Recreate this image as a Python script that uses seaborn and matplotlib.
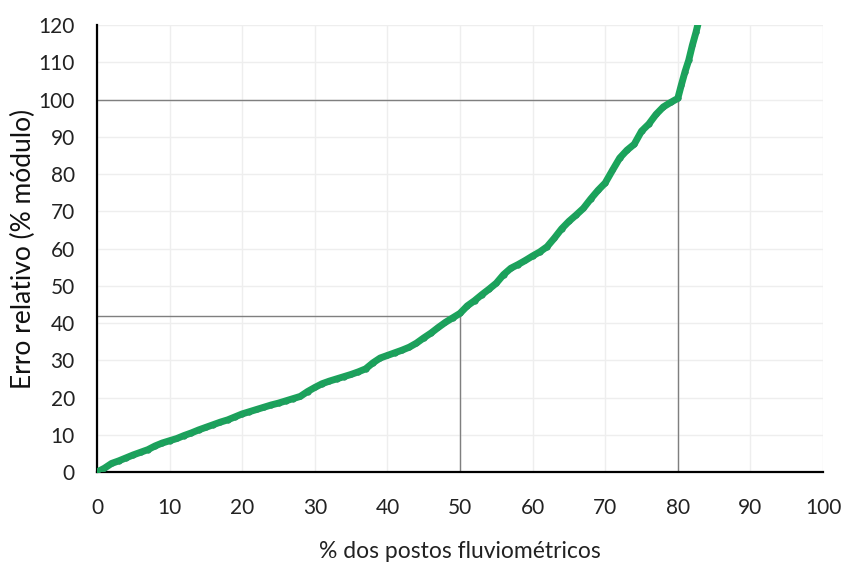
import matplotlib
matplotlib.use("Agg")
import matplotlib.pyplot as plt
import seaborn as sns
import pandas as pd

# % dos postos (x) e erro relativo (y)
pct_postos = [0, 1, 2, 3, 4, 5, 6, 7, 8, 9, 10, 11, 12, 13, 14, 15, 16, 17, 18, 19,
              20, 21, 22, 23, 24, 25, 26, 27, 28, 29, 30, 31, 32, 33, 34, 35, 36, 37,
              38, 39, 40, 41, 42, 43, 44, 45, 46, 47, 48, 49, 50, 51, 52, 53, 54, 55,
              56, 57, 58, 59, 60, 61, 62, 63, 64, 65, 66, 67, 68, 69, 70, 71, 72, 73,
              74, 75, 76, 77, 78, 79, 80, 80.5, 81, 81.5, 82, 82.5, 83]
erro_rel = [0, 1, 2.3, 3, 3.8, 4.6, 5.3, 6, 7, 7.8, 8.4, 9, 9.8, 10.5, 11.3, 12, 12.7,
            13.4, 14, 14.8, 15.6, 16.2, 16.8, 17.4, 18, 18.5, 19.1, 19.7, 20.3, 21.6,
            22.7, 23.7, 24.4, 25, 25.6, 26.2, 26.9, 27.7, 29.3, 30.6, 31.3, 32, 32.7,
            33.5, 34.6, 36, 37.3, 38.8, 40.2, 41.4, 42.6, 44.6, 46, 47.6, 49.1, 50.7,
            53, 54.7, 55.7, 56.8, 58, 59.1, 60.5, 62.8, 65.3, 67.3, 69, 70.8, 73.3,
            75.6, 77.6, 81, 84.3, 86.4, 88, 91.5, 93.4, 96, 98, 99.2, 100.3, 104,
            107.5, 110.5, 114.5, 118, 122]

# pontos de referencia (50% -> 42%, 80% -> 100%)
ref_x = [50, 80]
ref_y = [42, 100]

df = pd.DataFrame({"x": pct_postos, "y": erro_rel})

sns.set_theme(style="white")
plt.rcParams["font.family"] = ["Lato", "DejaVu Sans"]

fig = plt.figure(figsize=(8.46, 5.62), dpi=100)
ax = fig.add_axes([0.1147, 0.1601, 0.8581, 0.7954])

ax.grid(True, color="#eeeeee", linewidth=1)
ax.set_axisbelow(True)

for rx, ry in zip(ref_x, ref_y):
    ax.plot([0, rx], [ry, ry], color="#7f7f7f", linewidth=1, zorder=2)
    ax.plot([rx, rx], [0, ry], color="#7f7f7f", linewidth=1, zorder=2)

sns.lineplot(data=df, x="x", y="y", ax=ax, color="#19a55a", linewidth=5,
             marker="o", markersize=4, markeredgecolor="#2f8a66",
             markeredgewidth=0.4, zorder=3, clip_on=True)

ax.set_xlim(0, 100)
ax.set_ylim(0, 120)
ax.set_xticks(range(0, 101, 10))
ax.set_yticks(range(0, 121, 10))
ax.tick_params(axis="both", length=0, labelsize=15, colors="#222222")
ax.tick_params(axis="x", pad=19)
ax.tick_params(axis="y", pad=16)

ax.set_xlabel("% dos postos fluviométricos", fontsize=16.5, color="#222222", labelpad=16)
ax.set_ylabel("Erro relativo (% módulo)", fontsize=19, color="#111111", labelpad=2)

sns.despine(ax=ax)
for s in ["left", "bottom"]:
    ax.spines[s].set_color("black")
    ax.spines[s].set_linewidth(1.6)

fig.savefig("out.png", dpi=100)
